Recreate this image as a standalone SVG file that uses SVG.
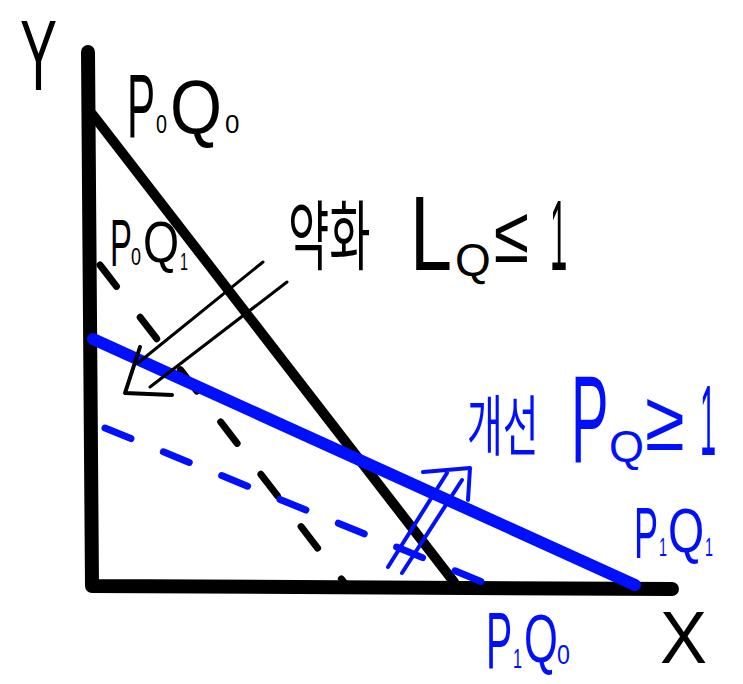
<svg xmlns="http://www.w3.org/2000/svg" width="743" height="684" viewBox="0 0 743 684">
<style>
.ax{stroke:#000;stroke-width:14;stroke-linecap:round;stroke-linejoin:round;fill:none}
.bk{stroke:#000;stroke-width:10;stroke-linecap:round;fill:none}
.bkd{stroke:#000;stroke-width:7;stroke-linecap:round;stroke-dasharray:27 39;fill:none}
.bl{stroke:#0010ff;stroke-width:12;stroke-linecap:round;fill:none}
.bld{stroke:#0010ff;stroke-width:7;stroke-linecap:round;stroke-dasharray:28 35;fill:none}
.ar{stroke:#000;stroke-width:3;stroke-linecap:round;stroke-linejoin:round;fill:none}
.arh{stroke:#000;stroke-width:4;stroke-linecap:round;stroke-linejoin:round;fill:none}
.arb{stroke:#0010ff;stroke-width:4;stroke-linecap:round;stroke-linejoin:round;fill:none}
text{font-family:"Liberation Sans","Noto Sans CJK KR",sans-serif}
.k{fill:#000}
.b{fill:#0010ff}
</style>
<g id="connectors">
<path id="axes" class="ax" d="M88,52 L92,586 L672,589"/>
<path id="p0q0-line" class="bk" d="M93,115 L454,582"/>
<path id="p0q1-line" class="bkd" d="M100,265 L346,585"/>
<path id="p1q1-line" class="bl" d="M93,339 L635,585"/>
<path id="p1q0-line" class="bld" d="M105,428 L497,588"/>
<g id="arrow-worse">
<path class="ar" d="M263,262 L138,363 M287,282 L150,387"/>
<path class="arh" d="M140,347 L125,393 L172,395"/>
</g>
<g id="arrow-better">
<path class="arb" d="M388,567 L447,473 M402,573 L462,480 M423,472 L470,468 L468,500"/>
</g>
</g>
<g id="label-y"><text class="k" font-size="100" transform="translate(20 90) scale(.555 1)">Y</text></g>
<g id="label-x"><text class="k" font-size="75" transform="translate(660 663) scale(.94 1)">X</text></g>
<g id="label-p0q0">
<text class="k" font-size="90" transform="translate(127 137) scale(.467 1)">P</text>
<text class="k" font-size="26" transform="translate(156 133) scale(.76 1)">0</text>
<text class="k" font-size="76" transform="translate(170 133) scale(.88 1)">Q</text>
<text class="k" font-size="26" transform="translate(225 133) scale(1 1)">0</text>
</g>
<g id="label-p0q1">
<text class="k" font-size="67" transform="translate(110 266) scale(.49 1)">P</text>
<text class="k" font-size="24" transform="translate(131 265) scale(.75 1)">0</text>
<text class="k" font-size="58" transform="translate(143 262) scale(.8 1)">Q</text>
<text class="k" font-size="24" transform="translate(180 270) scale(.6 1)">1</text>
</g>
<g id="label-worse">
<text class="k" font-size="76" transform="translate(288 264) scale(.59 1)">약화</text>
<text class="k" font-size="105" transform="translate(410 270) scale(.72 1)">L</text>
<text class="k" font-size="46" transform="translate(455 276) scale(1 1)">Q</text>
<text class="k" font-size="80" transform="translate(494 262) scale(.8 1)">≤</text>
<text class="k" font-size="100" transform="translate(550 270) scale(.31 1)">1</text>
</g>
<g id="label-better">
<text class="b" font-size="66" transform="translate(467 450) scale(.59 1)">개선</text>
<text class="b" font-size="125" transform="translate(571 462) scale(.45 1)">P</text>
<text class="b" font-size="45" transform="translate(609 462) scale(1 1)">Q</text>
<text class="b" font-size="85" transform="translate(645 450) scale(.85 1)">≥</text>
<text class="b" font-size="100" transform="translate(700 455) scale(.29 1)">1</text>
</g>
<g id="label-p1q1">
<text class="b" font-size="72" transform="translate(634 558) scale(.5 1)">P</text>
<text class="b" font-size="26" transform="translate(659 556) scale(.55 1)">1</text>
<text class="b" font-size="62" transform="translate(668 552) scale(.75 1)">Q</text>
<text class="b" font-size="26" transform="translate(705 556) scale(.55 1)">1</text>
</g>
<g id="label-p1q0">
<text class="b" font-size="80" transform="translate(486 668) scale(.49 1)">P</text>
<text class="b" font-size="28" transform="translate(513 668) scale(.58 1)">1</text>
<text class="b" font-size="68" transform="translate(524 662) scale(.64 1)">Q</text>
<text class="b" font-size="28" transform="translate(557 664) scale(.83 1)">0</text>
</g>
</svg>
